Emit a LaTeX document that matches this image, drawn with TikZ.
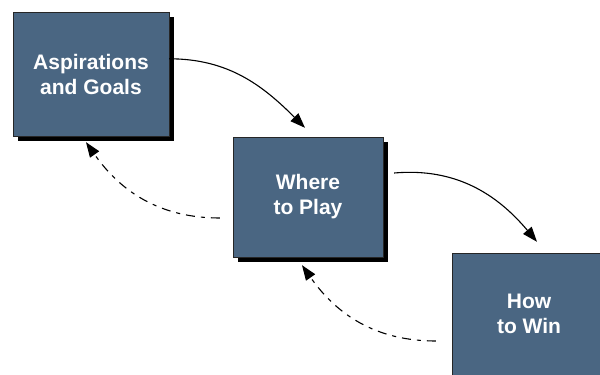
\documentclass[tikz,border=0pt]{standalone}
\usepackage{fontspec}
\setmainfont{Liberation Sans}
\usetikzlibrary{arrows.meta,backgrounds}
\definecolor{boxblue}{RGB}{74,102,130}
\begin{document}
\begin{tikzpicture}[x=1pt,y=1pt]
    \tikzstyle{box}=[rectangle,draw=black!85,thin,fill=boxblue,text=white,align=center,inner sep=0pt,
      font=\bfseries\fontsize{21}{25}\selectfont]
    \tikzstyle{boxshadow}=[fill=black]
    \tikzstyle{go}=[-{Triangle[length=15pt,width=11pt]},line width=1.1pt]
    \tikzstyle{back}=[go,dash pattern=on 9pt off 6pt on 4pt off 6pt]
    \useasboundingbox (0,0) rectangle (600,375);
      \node (G) at (91,301) [box,minimum width=156pt,minimum height=124pt] {Aspirations\\and Goals};
      \node (P) at (308,178) [box,minimum width=150pt,minimum height=120pt] {Where\\to Play};
      \node (W) at (529,61) [box,minimum width=154pt,minimum height=122pt] {How\\to Win};

      % shadows behind the boxes
      \begin{scope}[on background layer]
        \foreach \n in {G,P,W}
          \fill[boxshadow] ([shift={(5pt,-5pt)}]\n.north west) rectangle ([shift={(5pt,-5pt)}]\n.south east);
      \end{scope}

      \draw[go] (G.11) to [out=0,in=135] ([xshift=-3pt,yshift=9pt]P.north);
      \draw[go] ([xshift=11pt,yshift=24pt]P.east) to [out=5,in=130] ([xshift=8pt,yshift=11pt]W.north);
      \draw[back] ([xshift=-13pt,yshift=-21pt]P.west) to [out=180,in=-55] ([xshift=-5pt,yshift=-6pt]G.south);
      \draw[back] ([xshift=-16pt,yshift=-27pt]W.west) to [out=180,in=-55] ([xshift=-6pt,yshift=-8pt]P.south);
  \end{tikzpicture}
\end{document}
